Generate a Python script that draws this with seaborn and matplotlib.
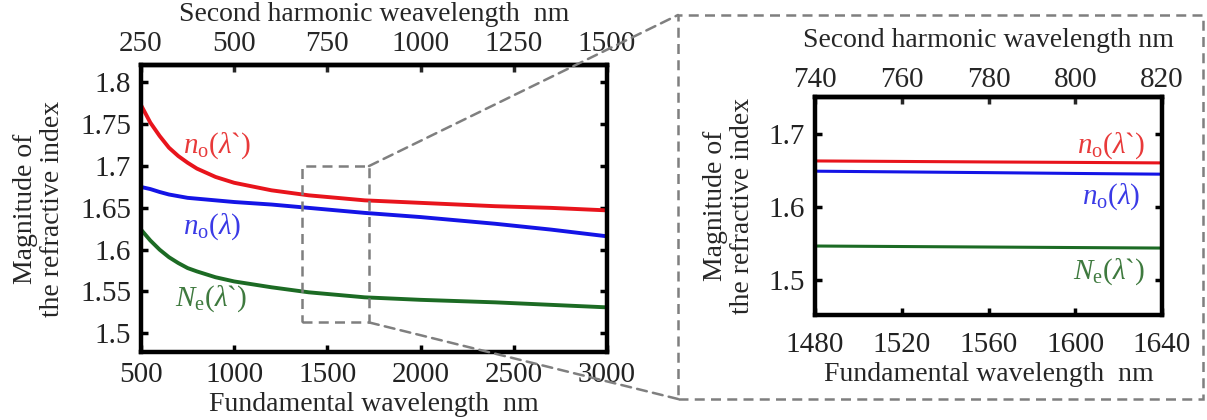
import numpy as np
import pandas as pd
import matplotlib
matplotlib.use("Agg")
import matplotlib.pyplot as plt
import seaborn as sns
from matplotlib.patches import Rectangle, ConnectionPatch

# ---- data ----
fund_wl = [500, 550, 600, 650, 700, 750, 800, 900, 1000, 1200, 1400, 1700, 2000, 2400, 2700, 3000]
n_o_sh = [1.773, 1.752, 1.736, 1.722, 1.712, 1.704, 1.697, 1.687, 1.680, 1.671, 1.665, 1.659, 1.656, 1.652, 1.650, 1.647]
n_o_f = [1.675, 1.6725, 1.669, 1.666, 1.664, 1.662, 1.661, 1.659, 1.657, 1.654, 1.650, 1.644, 1.639, 1.631, 1.624, 1.616]
N_e_sh = [1.624, 1.611, 1.600, 1.591, 1.584, 1.578, 1.574, 1.567, 1.562, 1.555, 1.549, 1.543, 1.540, 1.537, 1.534, 1.531]

zoom_wl = [1480, 1520, 1560, 1600, 1640]
zoom_n_o_sh = [1.6626, 1.6619, 1.6612, 1.6606, 1.6599]
zoom_n_o_f = [1.6486, 1.6476, 1.6466, 1.6455, 1.6445]
zoom_N_e_sh = [1.5463, 1.5456, 1.5449, 1.5442, 1.5435]

left_xticks = [500, 1000, 1500, 2000, 2500, 3000]
left_top_ticks = [250, 500, 750, 1000, 1250, 1500]
left_yticks = [1.5, 1.55, 1.6, 1.65, 1.7, 1.75, 1.8]
left_yticklabels = ["1.5", "1.55", "1.6", "1.65", "1.7", "1.75", "1.8"]
right_xticks = [1480, 1520, 1560, 1600, 1640]
right_top_ticks = [740, 760, 780, 800, 820]
right_yticks = [1.5, 1.6, 1.7]

series_names = [r"$n_\mathrm{o}(\lambda$`$)$", r"$n_\mathrm{o}(\lambda)$", r"$N_\mathrm{e}(\lambda$`$)$"]

sns.set_theme(style="white")
plt.rcParams["font.family"] = ["Liberation Serif", "DejaVu Serif"]
plt.rcParams["mathtext.fontset"] = "custom"
plt.rcParams["mathtext.rm"] = "Liberation Serif"
plt.rcParams["mathtext.it"] = "Liberation Serif:italic"
plt.rcParams["text.color"] = "#222222"

RED = "#e8141c"
BLUE = "#1414e6"
GREEN = "#1c6b24"
LRED = "#e83a3a"
LBLUE = "#3a3ae6"
LGREEN = "#3f7a3f"
GRAY = "#7f7f7f"

fig = plt.figure(figsize=(12.07, 4.2), dpi=100)
W, H = 1207, 420

def pos(x0, y0, x1, y1):
    return [x0 / W, 1 - y1 / H, (x1 - x0) / W, (y1 - y0) / H]

ax1 = fig.add_axes(pos(141, 65, 607, 352))
ax2 = fig.add_axes(pos(815, 97, 1162, 315))

df_left = pd.DataFrame({
    "x": fund_wl * 3,
    "y": n_o_sh + n_o_f + N_e_sh,
    "s": [series_names[0]] * len(fund_wl) + [series_names[1]] * len(fund_wl) + [series_names[2]] * len(fund_wl),
})
df_right = pd.DataFrame({
    "x": zoom_wl * 3,
    "y": zoom_n_o_sh + zoom_n_o_f + zoom_N_e_sh,
    "s": [series_names[0]] * len(zoom_wl) + [series_names[1]] * len(zoom_wl) + [series_names[2]] * len(zoom_wl),
})
pal = {series_names[0]: RED, series_names[1]: BLUE, series_names[2]: GREEN}

sns.lineplot(data=df_left, x="x", y="y", hue="s", palette=pal, ax=ax1, lw=2.8, legend=False)
sns.lineplot(data=df_right, x="x", y="y", hue="s", palette=pal, ax=ax2, lw=2.2, legend=False)

TS = 21
LBS = 20
for ax in (ax1, ax2):
    for sp in ax.spines.values():
        sp.set_linewidth(3.2)
        sp.set_color("black")
        sp.set_visible(True)
    ax.tick_params(axis="both", which="both", direction="in", length=5, width=2.5,
                   labelsize=TS, pad=7, colors="black", labelcolor="#222222",
                   left=True, right=True, bottom=True, top=False)
    ax.set_xlabel("")
    ax.set_ylabel("")

ax1.set_xlim(500, 3000)
ax1.set_ylim(1.4776, 1.8209)
ax1.set_xticks(left_xticks)
ax1.set_yticks(left_yticks)
ax1.set_yticklabels(left_yticklabels)
ax1.set_xlabel("Fundamental wavelength  nm", fontsize=LBS, labelpad=3)
ax1.set_ylabel("Magnitude of\nthe refractive index", fontsize=LBS, labelpad=11, linespacing=1.1)
sec1 = ax1.secondary_xaxis("top", functions=(lambda x: x / 2, lambda x: x * 2))
sec1.set_xticks(left_top_ticks)
sec1.tick_params(direction="in", length=5, width=2.5, labelsize=TS, pad=6)
sec1.spines["top"].set_linewidth(3.2)
sec1.set_xlabel("Second harmonic weavelength  nm", fontsize=LBS, labelpad=7)

ax2.set_xlim(1480, 1640)
ax2.set_ylim(1.452, 1.75)
ax2.set_xticks(right_xticks)
ax2.set_yticks(right_yticks)
ax2.tick_params(axis="x", pad=12)
ax2.set_xlabel("Fundamental wavelength  nm", fontsize=LBS, labelpad=3)
ax2.set_ylabel("Magnitude of\nthe refractive index", fontsize=LBS, labelpad=10, linespacing=1.1)
sec2 = ax2.secondary_xaxis("top", functions=(lambda x: x / 2, lambda x: x * 2))
sec2.set_xticks(right_top_ticks)
sec2.tick_params(direction="in", length=5, width=2.5, labelsize=TS, pad=3)
sec2.spines["top"].set_linewidth(3.2)
sec2.set_xlabel("Second harmonic wavelength nm", fontsize=LBS, labelpad=14)

# curve labels
LS = 21
ax1.text(726, 1.725, series_names[0], color=LRED, fontsize=LS, ha="left", va="center")
ax1.text(726, 1.6275, series_names[1], color=LBLUE, fontsize=LS, ha="left", va="center")
ax1.text(683, 1.5418, series_names[2], color=LGREEN, fontsize=LS, ha="left", va="center")
ax2.text(1632, 1.684, series_names[0], color=LRED, fontsize=LS, ha="right", va="center")
ax2.text(1630, 1.6135, series_names[1], color=LBLUE, fontsize=LS, ha="right", va="center")
ax2.text(1632, 1.511, series_names[2], color=LGREEN, fontsize=LS, ha="right", va="center")

# zoom rectangle in the left panel
zx0, zx1, zy0, zy1 = 1366, 1723, 1.513, 1.700
ax1.add_patch(Rectangle((zx0, zy0), zx1 - zx0, zy1 - zy0, fill=False, ec=GRAY,
                        lw=1.8, ls=(0, (4, 2.5)), zorder=5))

# big dashed box around the inset
bx0, by0, bx1, by1 = 678 / W, 1 - 399 / H, 1203 / W, 1 - 15 / H
fig.add_artist(Rectangle((bx0, by0), bx1 - bx0, by1 - by0, transform=fig.transFigure,
                         fill=False, ec=GRAY, lw=1.8, ls=(0, (4, 2.5)), zorder=10))
for ya, yb in ((zy1, by1), (zy0, by0)):
    cp = ConnectionPatch(xyA=(zx1, ya), coordsA=ax1.transData, xyB=(bx0, yb),
                         coordsB=fig.transFigure, color=GRAY, lw=1.8, ls=(0, (4, 2.5)), zorder=10)
    fig.add_artist(cp)

fig.savefig("out.png", dpi=100, facecolor="white")
